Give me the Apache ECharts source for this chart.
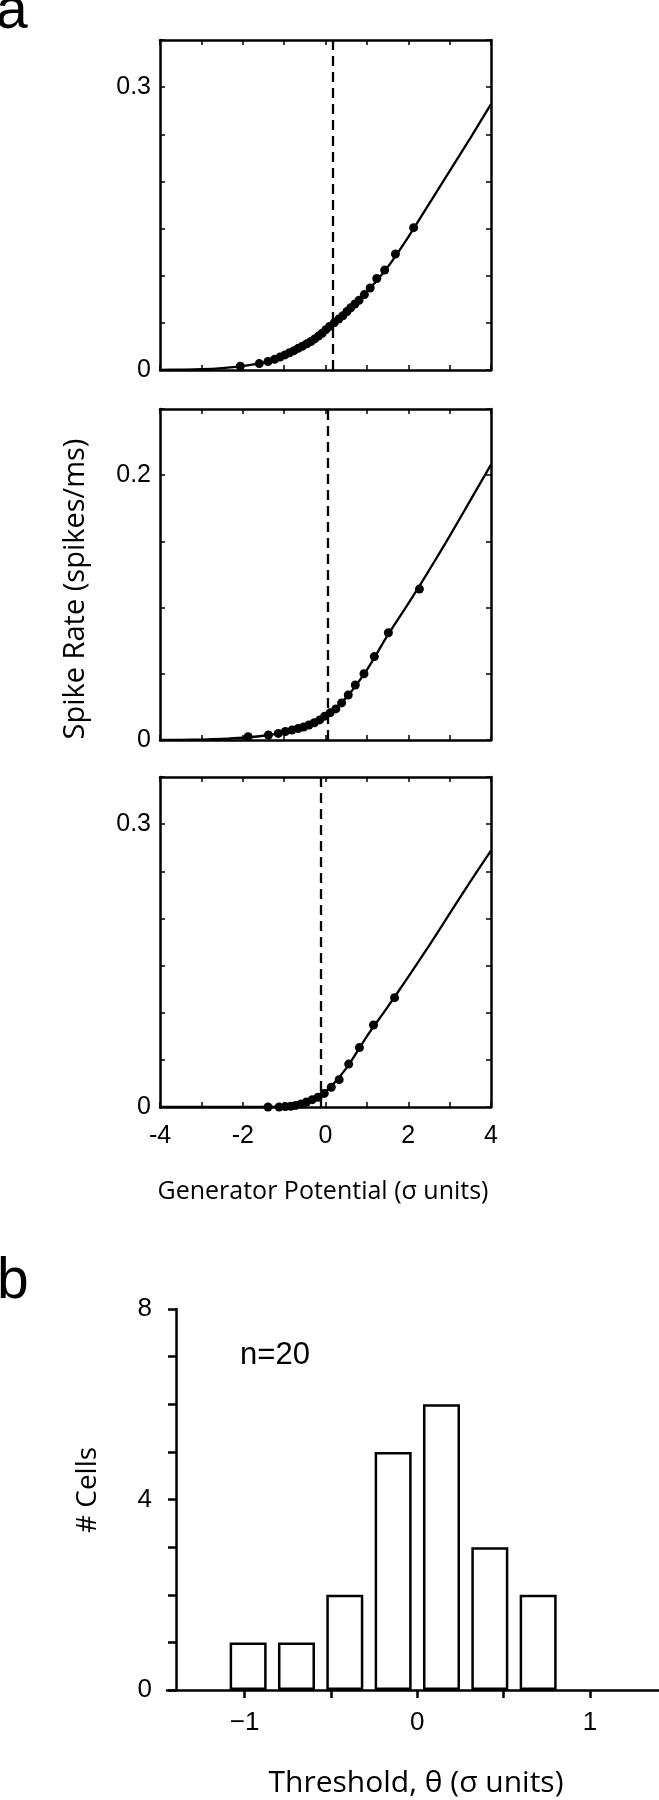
<!DOCTYPE html>
<html>
<head>
<meta charset="utf-8">
<script src="https://cdn.jsdelivr.net/npm/echarts@6/dist/echarts.min.js"></script>
<style>
    html, body { margin: 0; padding: 0; background: #fff; }
    #main { width: 659px; height: 1800px; }
</style>
</head>
<body>
<div id="main"></div>
<script>
//panel a - fitted curves, sampled along generator potential
var curveX = [-4, -3.5, -3, -2.5, -2, -1.5, -1, -0.5, 0, 0.5, 1, 1.5, 2, 2.5, 3, 3.5, 4];
var curveTop = [0.0002, 0.0004, 0.0008, 0.002, 0.0042, 0.0078, 0.0152, 0.0265, 0.0422, 0.061, 0.083, 0.109, 0.141, 0.176, 0.211, 0.246, 0.282];
var curveMid = [0, 0.0001, 0.0003, 0.0008, 0.0017, 0.0032, 0.0058, 0.0102, 0.0178, 0.032, 0.053, 0.079, 0.103, 0.128, 0.154, 0.181, 0.208];
var curveBot = [0, 0, 0, 0, 0, 0.0001, 0.0006, 0.0048, 0.0165, 0.041, 0.075, 0.106, 0.138, 0.171, 0.205, 0.239, 0.272];

//panel a - measured points
var dotsTopX = [-2.06, -1.6, -1.39, -1.23, -1.1, -0.98, -0.87, -0.76, -0.66, -0.56, -0.45, -0.35, -0.26, -0.17, -0.08, 0.01, 0.1, 0.21, 0.32, 0.42, 0.52, 0.61, 0.71, 0.81, 0.94, 1.08, 1.24, 1.43, 1.69, 2.13];
var dotsTopY = [0.004, 0.0068, 0.009, 0.0113, 0.0137, 0.016, 0.0183, 0.0205, 0.023, 0.0252, 0.0278, 0.0302, 0.033, 0.036, 0.039, 0.0428, 0.0462, 0.05, 0.054, 0.0575, 0.062, 0.066, 0.070, 0.074, 0.080, 0.087, 0.097, 0.106, 0.123, 0.151];
var dotsMidX = [-1.87, -1.38, -1.14, -0.97, -0.81, -0.66, -0.53, -0.40, -0.27, -0.14, -0.02, 0.11, 0.25, 0.39, 0.55, 0.72, 0.93, 1.18, 1.52, 2.27];
var dotsMidY = [0.0025, 0.0038, 0.005, 0.0064, 0.0075, 0.0087, 0.0098, 0.0113, 0.013, 0.0152, 0.018, 0.0205, 0.0235, 0.028, 0.034, 0.0415, 0.050, 0.063, 0.081, 0.114];
var dotsBotX = [-1.39, -1.12, -0.97, -0.84, -0.72, -0.59, -0.46, -0.32, -0.18, -0.03, 0.14, 0.33, 0.56, 0.82, 1.16, 1.67];
var dotsBotY = [0, 0, 0.0004, 0.0008, 0.0017, 0.0033, 0.0053, 0.0078, 0.0103, 0.0144, 0.0209, 0.029, 0.0455, 0.063, 0.087, 0.116];

//dashed threshold lines
var thresholds = [0.17, 0.05, -0.12];
var panelMax = [0.35, 0.25, 0.35];
var panelLabels = [[0, 0.3], [0, 0.2], [0, 0.3]];
var genLabels = [-4, -2, 0, 2, 4];

//panel b - threshold histogram
var binCenters = [-0.98, -0.70, -0.42, -0.14, 0.14, 0.42, 0.70];
var cellCounts = [1, 1, 2, 5, 6, 3, 2];
var countLabels = [0, 4, 8];
var thetaTicks = [-1, -0.5, 0, 0.5, 1];
var thetaLabels = [-1, 0, 1];

var narrow = "'Liberation Sans Narrow', 'Liberation Sans', Arial, sans-serif";
var helv = "'Liberation Sans', Arial, sans-serif";
var myriad = "'Open Sans', 'Noto Sans', sans-serif";

function zip(xs, ys) {
    return xs.map(function (x, i) { return [x, ys[i]]; });
}

var panelTop = [40, 409, 777];
var panelHeight = [330, 331, 330];
var curves = [curveTop, curveMid, curveBot];
var dots = [zip(dotsTopX, dotsTopY), zip(dotsMidX, dotsMidY), zip(dotsBotX, dotsBotY)];

var grids = [], xAxes = [], yAxes = [], series = [];
var frameLine = {show: true, onZero: false, lineStyle: {color: '#000', width: 2.5}};
var innerTick = {show: true, inside: true, length: 5, lineStyle: {color: '#000', width: 1.5}};

for (var i = 0; i < 3; i++) {
    grids.push({left: 160, top: panelTop[i], width: 331, height: panelHeight[i]});
}
grids.push({left: 167, top: 1309, width: 492, height: 381});

//bottom x axes of panel a
for (var i = 0; i < 3; i++) {
    xAxes.push({
        type: 'value', gridIndex: i, min: -4, max: 4, interval: 1,
        axisLine: frameLine, axisTick: innerTick, splitLine: {show: false},
        axisLabel: {
            show: i === 2, customValues: genLabels, margin: 17,
            color: '#000', fontSize: 25, fontFamily: narrow
        }
    });
}
//histogram x axis
xAxes.push({
    type: 'value', gridIndex: 3, min: -1.45, max: 1.4,
    axisLine: {show: true, onZero: false, lineStyle: {color: '#000', width: 2.5}},
    axisTick: {show: true, inside: false, length: 8, customValues: thetaTicks, lineStyle: {color: '#000', width: 2.5}},
    axisLabel: {
        customValues: thetaLabels, margin: 20, color: '#000', fontSize: 26, fontFamily: helv,
        formatter: function (v) { return v < 0 ? '\u2212' + Math.abs(v) : String(v); }
    },
    splitLine: {show: false}
});
//top x axes (frame + ticks)
for (var i = 0; i < 3; i++) {
    xAxes.push({
        type: 'value', gridIndex: i, position: 'top', min: -4, max: 4, interval: 1,
        axisLine: frameLine, axisTick: innerTick, axisLabel: {show: false}, splitLine: {show: false}
    });
}

//left y axes of panel a
for (var i = 0; i < 3; i++) {
    yAxes.push({
        type: 'value', gridIndex: i, min: 0, max: panelMax[i], interval: 0.05,
        axisLine: frameLine, axisTick: innerTick, splitLine: {show: false},
        axisLabel: {
            customValues: panelLabels[i], margin: 9, color: '#000', fontSize: 25, fontFamily: narrow,
            formatter: function (v) { return v === 0 ? '0' : v.toFixed(1); }
        }
    });
}
//histogram y axis
yAxes.push({
    type: 'value', gridIndex: 3, min: 0, max: 8, interval: 1, offset: -9,
    axisLine: {show: true, onZero: false, lineStyle: {color: '#000', width: 2.5}},
    axisTick: {show: true, inside: false, length: 8, lineStyle: {color: '#000', width: 2.5}},
    axisLabel: {customValues: countLabels, margin: 24, color: '#000', fontSize: 26, fontFamily: helv},
    splitLine: {show: false}
});
//right y axes (frame + ticks)
for (var i = 0; i < 3; i++) {
    yAxes.push({
        type: 'value', gridIndex: i, position: 'right', min: 0, max: panelMax[i], interval: 0.05,
        axisLine: frameLine, axisTick: innerTick, axisLabel: {show: false}, splitLine: {show: false}
    });
}

for (var i = 0; i < 3; i++) {
    series.push({
        type: 'line', xAxisIndex: i, yAxisIndex: i,
        data: zip(curveX, curves[i]),
        smooth: 0.3, showSymbol: false,
        lineStyle: {color: '#000', width: 2.3}, z: 3
    });
    series.push({
        type: 'scatter', xAxisIndex: i, yAxisIndex: i,
        data: dots[i], symbolSize: 9, itemStyle: {color: '#000', opacity: 1}, z: 4,
        markLine: {
            silent: true, symbol: 'none', label: {show: false},
            lineStyle: {color: '#000', width: 2.3, type: [10, 6]},
            data: [{xAxis: thresholds[i]}]
        }
    });
}

series.push({
    type: 'bar', xAxisIndex: 3, yAxisIndex: 3,
    data: zip(binCenters, cellCounts), barWidth: 37,
    itemStyle: {color: '#fff', borderColor: '#000', borderWidth: 2.5}
});

var chart = echarts.init(document.getElementById('main'), null, {renderer: 'canvas'});
option = {
    animation: false,
    backgroundColor: '#fff',
    grid: grids,
    xAxis: xAxes,
    yAxis: yAxes,
    series: series,
    graphic: [
        {type: 'text', x: -4, y: 12, style: {text: 'a', font: '57px ' + helv, fill: '#000', verticalAlign: 'middle'}},
        {type: 'text', x: -3, y: 1282, style: {text: 'b', font: '57px ' + helv, fill: '#000', verticalAlign: 'middle'}},
        {type: 'text', x: 76, y: 589, rotation: Math.PI / 2,
            style: {text: 'Spike Rate (spikes/ms)', font: '29px ' + myriad, fill: '#000', align: 'center', verticalAlign: 'middle'}},
        {type: 'text', x: 323, y: 1192,
            style: {text: 'Generator Potential (\u03c3 units)', font: '25px ' + myriad, fill: '#000', align: 'center', verticalAlign: 'middle'}},
        {type: 'text', x: 88, y: 1490, rotation: Math.PI / 2,
            style: {text: '# Cells', font: '28px ' + myriad, fill: '#000', align: 'center', verticalAlign: 'middle'}},
        {type: 'text', x: 275, y: 1355,
            style: {text: 'n=20', font: '31px ' + helv, fill: '#000', align: 'center', verticalAlign: 'middle'}},
        {type: 'text', x: 416, y: 1783,
            style: {text: 'Threshold, \u03b8 (\u03c3 units)', font: '30px ' + myriad, fill: '#000', align: 'center', verticalAlign: 'middle'}}
    ]
};
if (option && typeof option === "object") {
    chart.setOption(option, true);
}
</script>
</body>
</html>
